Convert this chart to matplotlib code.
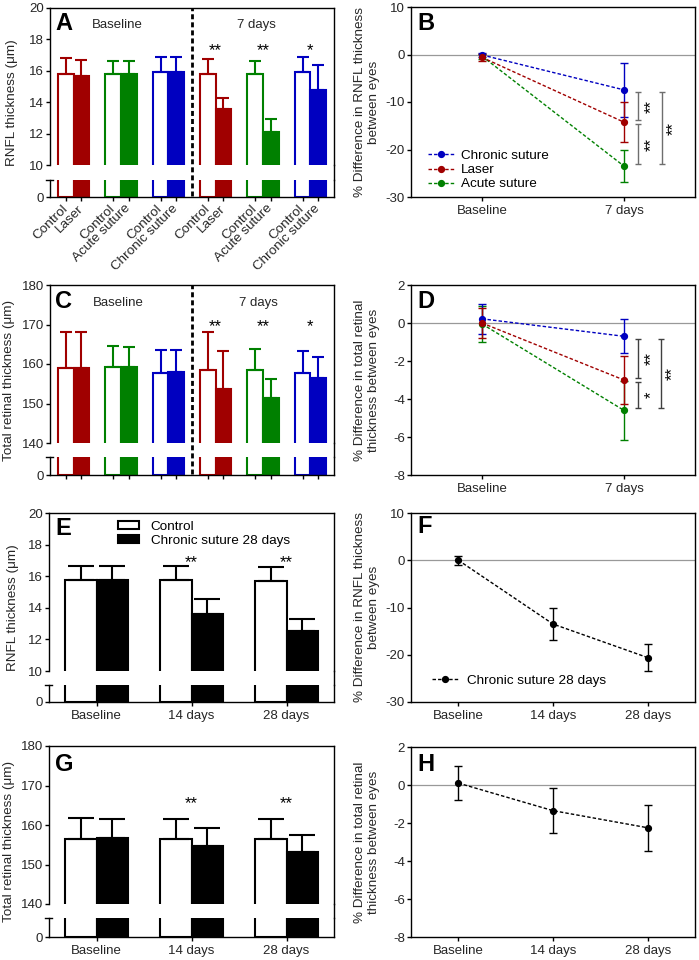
import numpy as np
import matplotlib
matplotlib.use('Agg')
import matplotlib.pyplot as plt
from matplotlib.lines import Line2D
from matplotlib.patches import Patch
from matplotlib.transforms import blended_transform_factory

# ---------------- data ----------------
pair_groups = ['Laser', 'Acute suture', 'Chronic suture']
time_ab = ['Baseline', '7 days']
time_ef = ['Baseline', '14 days', '28 days']
period_labels = ['Baseline', '7 days']

# A: RNFL thickness (um); baseline pairs then 7-day pairs (Laser, Acute, Chronic)
a_ctrl = [15.8, 15.8, 15.95, 15.8, 15.8, 15.9]
a_ctrl_sd = [1.0, 0.8, 0.95, 0.95, 0.8, 0.95]
a_trt = [15.7, 15.8, 15.9, 13.55, 12.1, 14.75]
a_trt_sd = [1.0, 0.8, 1.0, 0.7, 0.85, 1.6]
a_sig = ['', '', '', '**', '**', '*']

# C: total retinal thickness (um)
c_ctrl = [158.9, 159.3, 157.8, 158.4, 158.6, 157.6]
c_ctrl_sd = [9.1, 5.3, 5.7, 9.6, 5.2, 5.6]
c_trt = [158.9, 159.2, 158.1, 153.7, 151.3, 156.5]
c_trt_sd = [9.3, 5.2, 5.4, 9.7, 4.8, 5.3]
c_sig = ['', '', '', '**', '**', '*']

# B: % difference in RNFL thickness between eyes
b_series = ['Chronic suture', 'Laser', 'Acute suture']
b_chronic = [-0.1, -7.45]
b_chronic_sd = [0.4, 5.7]
b_laser = [-0.6, -14.25]
b_laser_sd = [0.75, 4.15]
b_acute = [-0.35, -23.5]
b_acute_sd = [0.5, 3.4]
b_sig = ['**', '**', '**']   # chronic-laser, laser-acute, chronic-acute

# D: % difference in total retinal thickness between eyes
d_chronic = [0.22, -0.7]
d_chronic_sd = [0.8, 0.9]
d_laser = [0.0, -3.0]
d_laser_sd = [0.78, 1.25]
d_acute = [-0.05, -4.6]
d_acute_sd = [0.95, 1.55]
d_sig = ['**', '*', '**']

# E: RNFL thickness, chronic suture 28 days
e_ctrl = [15.75, 15.75, 15.7]
e_ctrl_sd = [0.88, 0.88, 0.9]
e_trt = [15.75, 13.6, 12.53]
e_trt_sd = [0.88, 0.93, 0.73]
e_sig = ['', '**', '**']

# F
f_mean = [0.0, -13.5, -20.6]
f_sd = [0.9, 3.4, 2.85]

# G: total retinal thickness, chronic suture 28 days
g_ctrl = [156.5, 156.5, 156.5]
g_ctrl_sd = [5.2, 5.1, 5.1]
g_trt = [156.8, 154.6, 153.05]
g_trt_sd = [4.7, 4.6, 4.45]
g_sig = ['', '**', '**']

# H
h_mean = [0.1, -1.35, -2.25]
h_sd = [0.9, 1.2, 1.2]

# ---------------- style ----------------
plt.rcParams['font.family'] = ['Liberation Sans', 'DejaVu Sans']
plt.rcParams['font.size'] = 9.5
plt.rcParams['axes.unicode_minus'] = False
plt.rcParams['axes.linewidth'] = 1.0
TXT = '#262626'
RED, GREEN, BLUE = '#A00000', '#008000', '#0000C0'
pair_colors = [RED, GREEN, BLUE, RED, GREEN, BLUE]
LINE_LS = (0, (2.5, 1.5))

W, H = 699, 960
fig = plt.figure(figsize=(W / 100, H / 100), dpi=100)


def rect(x0, y0, x1, y1):
    return [x0 / W, 1 - y1 / H, (x1 - x0) / W, (y1 - y0) / H]


def style_ticks(ax):
    ax.tick_params(direction='out', length=3, width=1.0, colors='k',
                   labelcolor=TXT, labelsize=9.5)
    ax.tick_params(axis='y', pad=1.5)
    ax.tick_params(axis='x', pad=2.5)


def bar_panel(px, ctrl, ctrl_sd, trt, trt_sd, colors, ylim, yticks,
              bw, capsize, lw):
    x0, x1, yt, yb1, yb2, yb = px
    axu = fig.add_axes(rect(x0, yt, x1, yb1))
    axl = fig.add_axes(rect(x0, yb2, x1, yb))
    n = len(ctrl)
    idx = np.arange(n)
    for ax in (axu, axl):
        ax.bar(idx - bw / 2, ctrl, bw, color='white', edgecolor=colors,
               linewidth=lw, zorder=2)
        ax.bar(idx + bw / 2, trt, bw, color=colors, edgecolor=colors,
               linewidth=lw, zorder=2)
        ax.set_xlim(-0.5, n - 0.5)
        style_ticks(ax)
    for i in range(n):
        for xx, m, s in ((idx[i] - bw / 2, ctrl[i], ctrl_sd[i]),
                         (idx[i] + bw / 2, trt[i], trt_sd[i])):
            axu.errorbar([xx], [m], yerr=[[0], [s]], fmt='none',
                         ecolor=colors[i], elinewidth=lw, capsize=capsize,
                         capthick=lw, zorder=3)
    axu.set_ylim(*ylim)
    axu.set_yticks(yticks)
    axu.spines['bottom'].set_visible(False)
    axu.tick_params(axis='x', bottom=False, labelbottom=False)
    axl.set_ylim(0, 1)
    axl.set_yticks([0])
    axl.spines['top'].set_visible(False)
    axl.plot([-0.013, 0.01], [1, 1], transform=axl.transAxes,
             clip_on=False, color='k', lw=1.0)
    fig.add_artist(Line2D([x1 / W, x1 / W], [1 - yb2 / H, 1 - yb1 / H],
                          color='k', lw=1.0))
    return axu, axl


def add_ylabel(x, ytop, ybot, text):
    fig.text(x / W, 1 - (ytop + ybot) / 2 / H, text, rotation=90,
             ha='center', va='center', color=TXT, fontsize=9.7,
             multialignment='center', linespacing=1.15)


def letter(x, y, s):
    fig.text(x / W, 1 - y / H, s, fontsize=17, fontweight='bold',
             ha='left', va='baseline', color='k')


def dashed_divider(axu, x, ytop, ybot):
    trans = blended_transform_factory(axu.transData, fig.transFigure)
    fig.add_artist(Line2D([x, x], [1 - ybot / H, 1 - ytop / H],
                          transform=trans, color='k', lw=2.0,
                          ls=(0, (1.8, 1.1))))


def line_panel(px, xlabels, ylim, yticks):
    x0, x1, yt, yb = px
    ax = fig.add_axes(rect(x0, yt, x1, yb))
    ax.set_xlim(-0.5, len(xlabels) - 0.5)
    ax.set_ylim(*ylim)
    ax.set_yticks(yticks)
    ax.set_xticks(range(len(xlabels)))
    ax.set_xticklabels(xlabels)
    ax.axhline(0, color='#999999', lw=0.9, zorder=0)
    style_ticks(ax)
    return ax


def series(ax, means, sds, color):
    x = np.arange(len(means))
    ax.errorbar(x, means, yerr=sds, color=color, ecolor=color, lw=1.0,
                ls=LINE_LS, marker='o', ms=4.2, capsize=2.8,
                elinewidth=1.0, capthick=1.0, zorder=3)
    return Line2D([], [], color=color, lw=1.0, ls=LINE_LS, marker='o', ms=4.2)


def brackets(ax, means7, sigs, xs, star_xs, span, color):
    # means7: 7-day means for (chronic, laser, acute)
    pairs = [(0, 1), (1, 2), (0, 2)]
    g = 0.012 * span
    for k, (i, j) in enumerate(pairs):
        top = max(means7[i], means7[j]) - g
        bot = min(means7[i], means7[j]) + g
        ax.errorbar([xs[k]], [(top + bot) / 2], yerr=[(top - bot) / 2],
                    fmt='none', ecolor=color, elinewidth=1.0, capsize=2,
                    capthick=1.0, zorder=3)
        ax.text(star_xs[k], (top + bot) / 2, sigs[k], rotation=90,
                ha='center', va='center', fontsize=12, color='k')


# ---------------- Panel A ----------------
axA, axAl = bar_panel((50, 334, 8, 165, 180, 197), a_ctrl, a_ctrl_sd,
                      a_trt, a_trt_sd, pair_colors, (10, 20),
                      [10, 12, 14, 16, 18, 20], 0.33, 4.3, 1.5)
ticks6 = np.concatenate([[i - 0.165, i + 0.165] for i in range(6)])
a_ticklabels = []
for grp in pair_groups * 2:
    a_ticklabels += ['Control', grp]
axAl.set_xticks(ticks6)
axAl.set_xticklabels(a_ticklabels, rotation=45, ha='right', va='center',
                     rotation_mode='anchor', fontsize=9.7)
axAl.tick_params(axis='x', pad=4)
for i, s in enumerate(a_sig):
    if s:
        axA.text(i, 17.0, s, ha='center', va='baseline', fontsize=12)
axA.text(0.92, 18.89, period_labels[0], ha='center', va='center', color=TXT)
axA.text(3.87, 18.89, period_labels[1], ha='center', va='center', color=TXT)
dashed_divider(axA, 2.5, 8, 196)
add_ylabel(12, 8, 197, 'RNFL thickness (\u03bcm)')
letter(55, 30, 'A')

# ---------------- Panel C ----------------
axC, axCl = bar_panel((50, 334, 285, 443, 457, 475), c_ctrl, c_ctrl_sd,
                      c_trt, c_trt_sd, pair_colors, (140, 180),
                      [140, 150, 160, 170, 180], 0.33, 4.3, 1.5)
axCl.set_xticks(ticks6)
axCl.set_xticklabels([])
for i, s in enumerate(c_sig):
    if s:
        axC.text(i, 168.4, s, ha='center', va='baseline', fontsize=12)
axC.text(0.94, 175.4, period_labels[0], ha='center', va='center', color=TXT)
axC.text(3.9, 175.4, period_labels[1], ha='center', va='center', color=TXT)
dashed_divider(axC, 2.5, 285, 474)
add_ylabel(9, 285, 475, 'Total retinal thickness (\u03bcm)')
letter(55, 308, 'C')

# ---------------- Panel B ----------------
axB = line_panel((411, 695, 7, 197), time_ab, (-30, 10), [-30, -20, -10, 0, 10])
hb_acute = series(axB, b_acute, b_acute_sd, GREEN)
hb_chronic = series(axB, b_chronic, b_chronic_sd, BLUE)
hb_laser = series(axB, b_laser, b_laser_sd, RED)
brackets(axB, [b_chronic[1], b_laser[1], b_acute[1]], b_sig,
         [1.10, 1.10, 1.265], [1.19, 1.19, 1.35], 40, '#6e6e6e')
axB.legend([hb_chronic, hb_laser, hb_acute], b_series, loc='lower left',
           bbox_to_anchor=(0.035, 0.0), frameon=False, borderpad=0,
           handlelength=2.0, handletextpad=0.5, labelspacing=0.12,
           fontsize=9.7, numpoints=1)
add_ylabel(367, 7, 197, '% Difference in RNFL thickness\nbetween eyes')
letter(417, 30, 'B')

# ---------------- Panel D ----------------
axD = line_panel((411, 695, 285, 475), time_ab, (-8, 2), [-8, -6, -4, -2, 0, 2])
series(axD, d_acute, d_acute_sd, GREEN)
series(axD, d_chronic, d_chronic_sd, BLUE)
series(axD, d_laser, d_laser_sd, RED)
brackets(axD, [d_chronic[1], d_laser[1], d_acute[1]], d_sig,
         [1.10, 1.10, 1.26], [1.19, 1.19, 1.34], 10, '#404040')
add_ylabel(367, 285, 475, '% Difference in total retinal\nthickness between eyes')
letter(417, 308, 'D')

# ---------------- Panel E ----------------
blk = ['k'] * 3
axE, axEl = bar_panel((49, 334, 513, 671, 685, 702), e_ctrl, e_ctrl_sd,
                      e_trt, e_trt_sd, blk, (10, 20),
                      [10, 12, 14, 16, 18, 20], 0.33, 9.5, 1.5)
axEl.set_xticks(range(3))
axEl.set_xticklabels(time_ef)
for i, s in enumerate(e_sig):
    if s:
        axE.text(i, 16.55, s, ha='center', va='baseline', fontsize=12)
axE.legend([Patch(facecolor='white', edgecolor='k', linewidth=1.5),
            Patch(facecolor='k', edgecolor='k', linewidth=1.5)],
           ['Control', 'Chronic suture 28 days'], loc='upper left',
           bbox_to_anchor=(0.22, 0.995), frameon=False, borderpad=0,
           handlelength=1.5, handleheight=0.6, handletextpad=0.9,
           labelspacing=0.15, fontsize=9.7)
add_ylabel(13, 513, 702, 'RNFL thickness (\u03bcm)')
letter(55, 535, 'E')

# ---------------- Panel F ----------------
axF = line_panel((411, 695, 513, 702), time_ef, (-30, 10), [-30, -20, -10, 0, 10])
hf = series(axF, f_mean, f_sd, 'k')
axF.legend([hf], ['Chronic suture 28 days'], loc='lower left',
           bbox_to_anchor=(0.05, 0.045), frameon=False, borderpad=0,
           handlelength=2.0, handletextpad=0.6, fontsize=9.7, numpoints=1)
add_ylabel(367, 513, 702, '% Difference in RNFL thickness\nbetween eyes')
letter(417, 533, 'F')

# ---------------- Panel G ----------------
axG, axGl = bar_panel((49, 334, 746, 904, 918, 937), g_ctrl, g_ctrl_sd,
                      g_trt, g_trt_sd, blk, (140, 180),
                      [140, 150, 160, 170, 180], 0.33, 9.5, 1.5)
axGl.set_xticks(range(3))
axGl.set_xticklabels(time_ef)
for i, s in enumerate(g_sig):
    if s:
        axG.text(i, 164.2, s, ha='center', va='baseline', fontsize=12)
add_ylabel(9, 746, 937, 'Total retinal thickness (\u03bcm)')
letter(55, 771, 'G')

# ---------------- Panel H ----------------
axH = line_panel((411, 695, 747, 937), time_ef, (-8, 2), [-8, -6, -4, -2, 0, 2])
series(axH, h_mean, h_sd, 'k')
add_ylabel(367, 747, 937, '% Difference in total retinal\nthickness between eyes')
letter(417, 771, 'H')

fig.savefig('out.png', dpi=100)
